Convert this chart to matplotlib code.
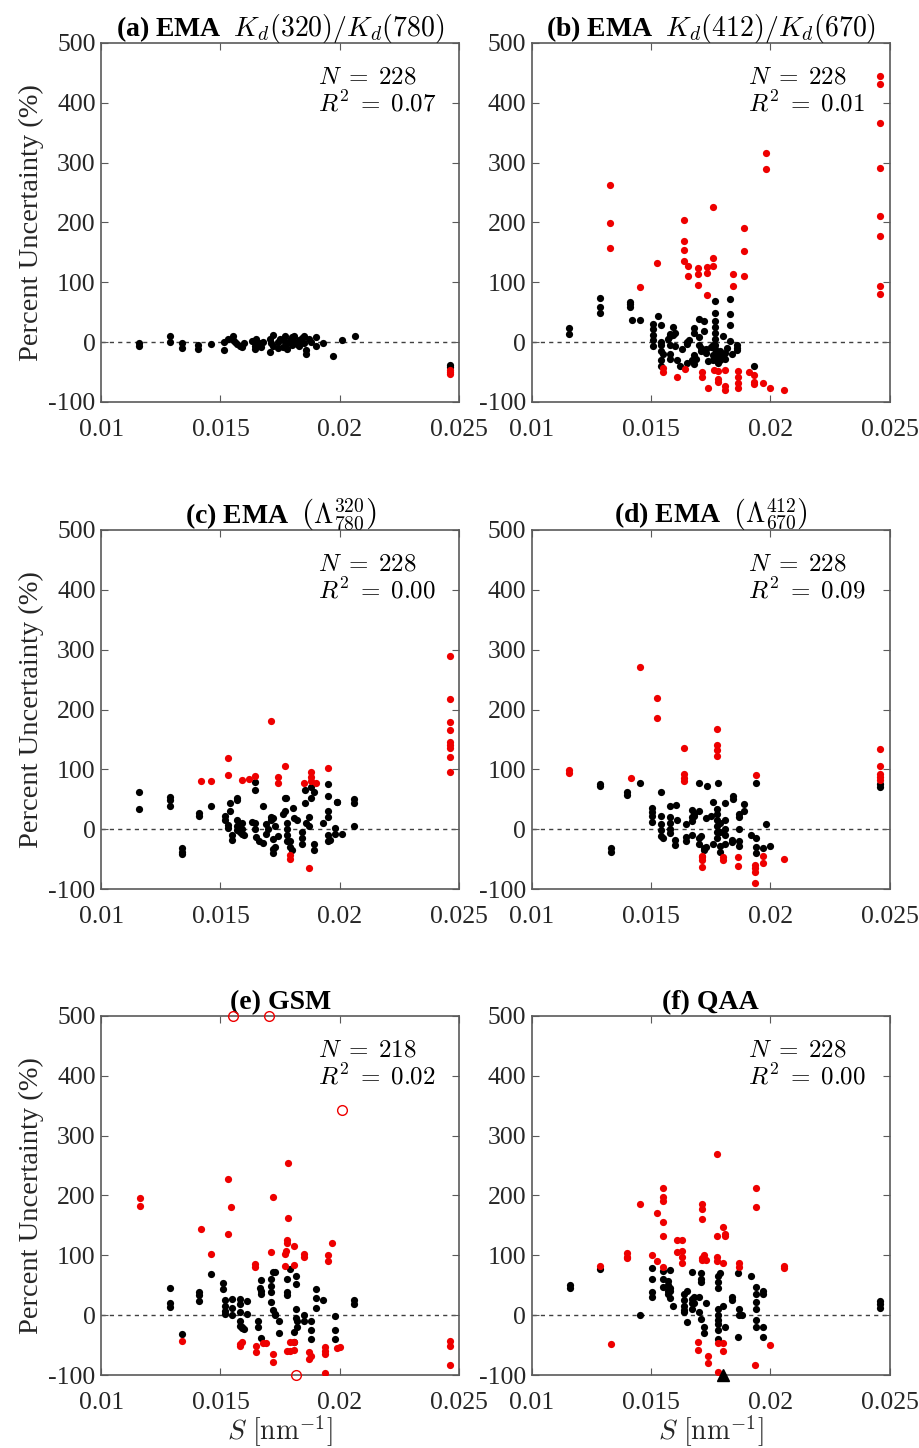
import numpy as np
import matplotlib.pyplot as plt

plt.rcParams['font.family'] = 'Liberation Serif'
plt.rcParams['mathtext.fontset'] = 'cm'

# ---- panel (a) EMA Kd(320)/Kd(780) ----
a_black_s = [0.01158, 0.01158, 0.01289, 0.01289, 0.01338, 0.01338, 0.01405, 0.01405, 0.0146,
             0.01515, 0.01515, 0.0153, 0.01554, 0.01554, 0.0156, 0.0157, 0.0158, 0.0159,
             0.01645, 0.01645, 0.0166, 0.0167, 0.0168, 0.01708, 0.01708, 0.0172, 0.0172,
             0.0174, 0.0174, 0.0176, 0.0176, 0.0177, 0.0178, 0.0178, 0.0180, 0.0180, 0.0181,
             0.0181, 0.0183, 0.0183, 0.0185, 0.0185, 0.0186, 0.0186, 0.0188, 0.0190, 0.0190,
             0.0193, 0.0197, 0.0201, 0.02064, 0.0163, 0.0171, 0.0175, 0.0179, 0.0182, 0.0184,
             0.0187, 0.0160, 0.0165, 0.0246, 0.0246]
a_black_y = [-1, -7, 10, 1, -1, -10, -4, -11, -3,
             0, -14, 6, 11, 4, 1, -3, -6, -8,
             -6, -12, -1, -8, 1, 6, -17, 12, -6,
             0, -10, 3, -8, 10, -1, -11, 8, -4, 11,
             0, 3, -6, 11, -1, -14, -20, 0, 8, -7,
             -1, -23, 3, 11, 2, -2, 5, 4, -3, 7,
             5, -1, 5, -38, -42]
a_red_s = [0.0246, 0.0246, 0.0246]
a_red_y = [-46, -50, -53]

# ---- panel (b) EMA Kd(412)/Kd(670) ----
b_black_s = [0.01155, 0.01155, 0.01284, 0.01284, 0.01284, 0.0141, 0.0141, 0.0141, 0.0142,
             0.01455, 0.0153, 0.0151, 0.0151, 0.0151, 0.0151, 0.0151, 0.0154, 0.0154, 0.0154,
             0.0154, 0.0154, 0.0154, 0.0158, 0.0158, 0.0158, 0.0158, 0.0158, 0.0159, 0.0159,
             0.0160, 0.0160, 0.0161, 0.0162, 0.0165, 0.0165, 0.0165, 0.0166, 0.0168, 0.0168,
             0.0168, 0.0168, 0.0169, 0.0170, 0.0170, 0.0170, 0.0171, 0.0171, 0.0172, 0.0172,
             0.0173, 0.0173, 0.0174, 0.0176, 0.0176, 0.0176, 0.0177, 0.0177, 0.0177, 0.0177,
             0.0177, 0.0177, 0.0177, 0.0177, 0.0178, 0.0178, 0.0178, 0.0179, 0.0180, 0.0180,
             0.0181, 0.0182, 0.0183, 0.0183, 0.0183, 0.0183, 0.0186, 0.0186, 0.0186, 0.0193,
             0.0155, 0.0157, 0.0163, 0.0167, 0.0175, 0.0179, 0.0181, 0.0184]
b_black_y = [24, 14, 74, 59, 49, 67, 63, 59, 37,
             37, 44, 31, 22, 12, 4, -6, 28, 0, -4,
             -15, -30, -40, 10, 14, -5, -20, -28, 25, 12,
             -7, 15, -30, -40, 0, -3, -35, 3, 24, 15,
             -22, -37, -28, 38, 8, -5, -10, -15, 35, 18,
             -12, -18, -32, -22, -30, -5, 69, 49, 35, 25,
             15, 5, -5, -12, -20, -26, -35, -15, -25, 10,
             -18, -10, 72, 47, 28, 2, -5, -10, -13, -40,
             -20, 5, -12, -30, -8, -30, -28, -20]
b_red_s = [0.0133, 0.0133, 0.0133, 0.01455, 0.01527, 0.0164, 0.0164, 0.0164, 0.0164,
           0.01656, 0.01656, 0.01698, 0.01698, 0.01698, 0.01735, 0.01735, 0.01735,
           0.01761, 0.01761, 0.01761, 0.01845, 0.01845, 0.0189, 0.0189, 0.0189,
           0.01983, 0.01983, 0.02458, 0.02458, 0.02458, 0.02458, 0.02458, 0.02458,
           0.02458, 0.02458, 0.01548, 0.01548, 0.0161, 0.01644, 0.01714, 0.01714, 0.0174,
           0.01765, 0.0178, 0.0178, 0.0178, 0.0181, 0.0181, 0.0181, 0.01865, 0.01865,
           0.01865, 0.01865, 0.0191, 0.0193, 0.0193, 0.0193, 0.0197, 0.0200, 0.02057]
b_red_y = [263, 199, 157, 92, 132, 204, 169, 154, 136,
           127, 110, 123, 113, 96, 126, 115, 79,
           226, 140, 127, 113, 94, 190, 152, 111,
           316, 290, 444, 432, 366, 291, 211, 177,
           93, 80, -43, -50, -58, -45, -50, -58, -77,
           -46, -48, -62, -67, -73, -80, -47, -48, -58,
           -68, -76, -50, -55, -66, -70, -68, -76, -80]

# ---- panel (c) EMA (Lambda 320/780) ----
c_black_s = [0.0116, 0.0116, 0.0129, 0.0129, 0.0129, 0.0134, 0.0134, 0.0134, 0.0141, 0.0141,
             0.0146, 0.0152, 0.0152, 0.0153, 0.0153, 0.0155, 0.0155, 0.0154, 0.0154, 0.0157,
             0.0157, 0.0157, 0.0157, 0.0157, 0.0159, 0.0159, 0.0159, 0.0160, 0.01645, 0.01645,
             0.01645, 0.01645, 0.0165, 0.0168, 0.0168, 0.0169, 0.0169, 0.0172, 0.0172, 0.0172,
             0.0171, 0.0171, 0.0172, 0.0173, 0.0173, 0.0177, 0.01775, 0.0177, 0.0178, 0.0178,
             0.0178, 0.0178, 0.0179, 0.0179, 0.01805, 0.0181, 0.0180, 0.0184, 0.0184, 0.0184,
             0.01855, 0.01855, 0.0187, 0.0187, 0.0188, 0.0188, 0.0189, 0.0189, 0.0189, 0.0193,
             0.0195, 0.0195, 0.0195, 0.0195, 0.0195, 0.0195, 0.0196, 0.0198, 0.0198, 0.0199,
             0.0199, 0.0201, 0.0206, 0.0206, 0.0206,
             0.0158, 0.0163, 0.0166, 0.0170, 0.0174, 0.0176, 0.0182, 0.0186]
c_black_y = [62, 33, 54, 49, 39, -31, -38, -42, 27, 22,
             39, 22, 15, 7, 2, -10, -18, 30, 44, 53,
             48, 15, 5, -2, 10, 0, -8, -10, 79, 65,
             10, 0, -13, 39, -23, 8, -8, 18, -33, -40,
             20, 15, -17, 6, -30, 52, 52, 30, 10, 0,
             -10, -20, -20, -30, 35, 18, -35, -5, -15, -25,
             65, 43, 20, 5, 70, 53, -25, -35, 62, 10,
             75, 55, 30, 20, -10, -20, -18, 2, -8, 45,
             45, -8, 50, 44, 5,
             -5, 12, -20, 0, -12, 25, 15, 10]
c_red_s = [0.0142, 0.0146, 0.0153, 0.0153, 0.0159, 0.0162, 0.01645, 0.0171, 0.0174, 0.0174,
           0.0177, 0.0179, 0.0179, 0.0185, 0.0188, 0.0188, 0.0188, 0.0190, 0.0187, 0.0195,
           0.0246, 0.0246, 0.0246, 0.0246, 0.0246, 0.0246, 0.0246, 0.0246, 0.0246]
c_red_y = [81, 81, 119, 90, 82, 84, 89, 180, 78, 88,
           106, -43, -50, 78, 96, 88, 80, 78, -65, 102,
           289, 218, 179, 166, 146, 141, 136, 120, 95]

# ---- panel (d) EMA (Lambda 412/670) ----
d_black_s = [0.01284, 0.01284, 0.0140, 0.0140, 0.01334, 0.01334, 0.01455, 0.0154, 0.01702,
             0.01735, 0.0178, 0.0194, 0.0246, 0.0246,
             0.01506, 0.01506, 0.01506, 0.01506, 0.0154, 0.0154, 0.0154, 0.0154, 0.0155,
             0.01578, 0.01578, 0.01578, 0.01578, 0.0158, 0.01606, 0.0161, 0.0160, 0.0160,
             0.01647, 0.01647, 0.01647, 0.0167, 0.0167, 0.0167, 0.0167, 0.0168, 0.0168,
             0.0170, 0.0170, 0.0170, 0.0171, 0.01723, 0.01723, 0.0173, 0.0173, 0.0175,
             0.0176, 0.0176, 0.01777, 0.01777, 0.01777, 0.01777, 0.01777, 0.01777, 0.0179,
             0.0179, 0.0179, 0.0179, 0.0181, 0.0181, 0.0181, 0.0181, 0.0181, 0.0184, 0.0184,
             0.01845, 0.01845, 0.0187, 0.0187, 0.0187, 0.0187, 0.0187, 0.0189, 0.0189,
             0.0192, 0.0194, 0.0194, 0.0194, 0.0197, 0.0198, 0.0200]
d_black_y = [75, 72, 62, 57, -32, -38, 78, 62, 78,
             72, 77, 77, 76, 70,
             36, 28, 22, 12, 22, 8, -2, -12, -15,
             20, 10, 0, -7, 38, 40, 16, -18, -26,
             -13, -20, 8, 32, 20, 14, -10, 26, 22,
             -15, -25, 30, -12, -32, -35, 18, -30, 22,
             45, -25, 33, 26, 15, 5, -5, -15, -28,
             -38, 10, -5, 44, 15, 0, -10, -25, -18, -22,
             55, 50, 25, 20, 0, -20, -28, 42, 30,
             -10, -15, -30, -40, -32, 8, -28]
d_red_s = [0.01155, 0.01155, 0.01414, 0.01455, 0.01527, 0.01527, 0.0164, 0.0164, 0.0164,
           0.0164, 0.01777, 0.01777, 0.01777, 0.01777, 0.0194, 0.01715, 0.01715, 0.01715,
           0.01715, 0.0180, 0.0180, 0.01866, 0.01866, 0.01936, 0.01936, 0.01936, 0.01936,
           0.0197, 0.0197, 0.02057, 0.0246, 0.0246, 0.0246, 0.0246, 0.0246]
d_red_y = [99, 94, 85, 271, 219, 185, 136, 93, 85,
           80, 168, 140, 132, 122, 90, -46, -52, -63,
           -44, -47, -52, -47, -62, -60, -65, -72, -90,
           -45, -57, -50, 134, 106, 93, 87, 82]

# ---- panel (e) GSM ----
e_black_s = [0.0129, 0.0129, 0.0129, 0.0134, 0.0141, 0.0141, 0.0141, 0.0146, 0.0151, 0.0151,
             0.0152, 0.0152, 0.0152, 0.0152, 0.0155, 0.0155, 0.0155, 0.0158, 0.0158, 0.0158,
             0.0158, 0.0158, 0.0159, 0.0159, 0.0160, 0.0161, 0.0161, 0.01658, 0.01658, 0.01665,
             0.0167, 0.0167, 0.0167, 0.0167, 0.0171, 0.0171, 0.0171, 0.0171, 0.0172, 0.0172,
             0.0173, 0.0173, 0.0173, 0.01746, 0.01746, 0.0178, 0.0178, 0.0178, 0.0179, 0.01817,
             0.01817, 0.01817, 0.01817, 0.0181, 0.0181, 0.0182, 0.0182, 0.0185, 0.0185, 0.0188,
             0.0188, 0.0188, 0.0190, 0.0190, 0.0190, 0.0193, 0.0198, 0.0198, 0.0198, 0.0206,
             0.0206]
e_black_y = [45, 20, 14, -32, 38, 33, 24, 68, 54, 43,
             25, 15, 7, 2, 27, 12, 0, 27, 18, 5,
             -10, -18, -20, -22, -23, 23, 2, -10, -20, 45,
             58, 40, 35, -38, 60, 48, 38, 22, 72, 8,
             72, 0, 2, -10, -30, 60, 38, 33, 77, 65,
             52, 10, -5, -28, -45, -10, -20, 0, -10, -10,
             -25, -40, 44, 28, 12, 25, -2, -25, -40, 25,
             18]
e_red_s = [0.01163, 0.01163, 0.01418, 0.0146, 0.01533, 0.01533, 0.01545, 0.0134, 0.01645,
           0.01645, 0.0171, 0.0172, 0.01782, 0.01782, 0.0178, 0.0178, 0.0177, 0.0177,
           0.01775, 0.0181, 0.0181, 0.0185, 0.0185, 0.0195, 0.0195, 0.01968, 0.0158,
           0.0158, 0.0159, 0.0165, 0.0165, 0.0168, 0.0169, 0.0172, 0.0172, 0.0178, 0.0179,
           0.0179, 0.0181, 0.0181, 0.0187, 0.0187, 0.0188, 0.0194, 0.0194, 0.0194, 0.0194,
           0.0199, 0.0200, 0.0246, 0.0246, 0.0246]
e_red_y = [196, 183, 144, 103, 227, 136, 181, -43, 86,
           80, 105, 197, 255, 163, 125, 120, 103, 82,
           108, 115, 83, 102, 97, 100, 91, 121, -48,
           -52, -45, -52, -62, -47, -47, -65, -78, -60, -45,
           -60, -45, -58, -62, -73, -68, -53, -60, -65, -96,
           -55, -54, -43, -51, -83]
# values beyond the axis range, drawn as open circles on the frame
e_out_s = [0.01552, 0.01704, 0.02011, 0.01817]
e_out_y = [500, 500, 342, -100]

# ---- panel (f) QAA ----
f_black_s = [0.01159, 0.01159, 0.01284, 0.01455, 0.0246, 0.0246, 0.0246,
             0.01506, 0.01506, 0.01506, 0.01506, 0.0155, 0.0155, 0.0155, 0.0157, 0.0157,
             0.0157, 0.0157, 0.0158, 0.0158, 0.0158, 0.0158, 0.0159, 0.0164, 0.0164, 0.0164,
             0.0164, 0.0164, 0.0165, 0.0165, 0.0167, 0.0167, 0.0167, 0.0167, 0.0168, 0.0168,
             0.0170, 0.0170, 0.0171, 0.0171, 0.0171, 0.0171, 0.0172, 0.0172, 0.0173, 0.0178,
             0.0178, 0.0178, 0.0178, 0.0178, 0.0178, 0.0178, 0.0178, 0.0178, 0.0179, 0.0180,
             0.0181, 0.0184, 0.0184, 0.01866, 0.01866, 0.0187, 0.0187, 0.0188, 0.0192, 0.0194,
             0.0194, 0.0194, 0.0194, 0.0194, 0.0194, 0.0197, 0.0197, 0.0197, 0.0197]
f_black_y = [50, 45, 77, 0, 24, 18, 12,
             78, 60, 38, 30, 73, 60, 47, 57, 50,
             40, 35, 75, 45, 40, 28, 15, 35, 25, 15,
             5, 8, 40, -12, 72, 27, 20, 10, 30, 20,
             30, 5, 70, 60, 55, -7, -20, -30, 20, 65,
             55, 45, 10, 0, -8, -15, -25, -40, 70, 15,
             -20, 30, 25, 70, -37, 10, 0, 0, 65, 47,
             35, 22, 10, -20, -8, 40, 35, -20, -37]
f_red_s = [0.01284, 0.01334, 0.0140, 0.0140, 0.0140, 0.01455, 0.01506, 0.01527, 0.01527,
           0.01548, 0.01548, 0.01548, 0.01548, 0.01548, 0.01548, 0.0163, 0.0163, 0.0163,
           0.0163, 0.0161, 0.0161, 0.01715, 0.01715, 0.01715, 0.01715, 0.01715, 0.0172,
           0.0173, 0.01777, 0.01777, 0.01777, 0.01777, 0.0180, 0.0181, 0.0181, 0.0180,
           0.0187, 0.0187, 0.0194, 0.0194, 0.02057, 0.02057, 0.01698, 0.01698, 0.0174,
           0.0174, 0.0178, 0.0178, 0.0180, 0.0180, 0.01936, 0.0200]
f_red_y = [82, -48, 104, 98, 95, 185, 100, 170, 90,
           213, 198, 190, 155, 133, 80, 125, 108, 98,
           88, 125, 105, 185, 177, 160, 95, 92, 100,
           92, 270, 133, 97, 90, 148, 136, 133, 88,
           88, 80, 213, 180, 82, 78, -45, -58, -68,
           -80, -47, -95, -47, -60, -83, -50]
# value below the axis range, drawn as a triangle on the frame
f_out_s = [0.0180]
f_out_y = [-100]

titles = [r'(a) EMA  $K_d(320)/K_d(780)$',
          r'(b) EMA  $K_d(412)/K_d(670)$',
          r'(c) EMA  $\left(\Lambda_{780}^{320}\right)$',
          r'(d) EMA  $\left(\Lambda_{670}^{412}\right)$',
          '(e) GSM',
          '(f) QAA']
n_vals = [228, 228, 228, 228, 218, 228]
r2_vals = ['0.07', '0.01', '0.00', '0.09', '0.02', '0.00']

black = [(a_black_s, a_black_y), (b_black_s, b_black_y), (c_black_s, c_black_y),
         (d_black_s, d_black_y), (e_black_s, e_black_y), (f_black_s, f_black_y)]
red = [(a_red_s, a_red_y), (b_red_s, b_red_y), (c_red_s, c_red_y),
       (d_red_s, d_red_y), (e_red_s, e_red_y), (f_red_s, f_red_y)]

fig = plt.figure(figsize=(9.2, 14.48), dpi=100)

lefts = [0.110, 0.578]
bottoms = [0.7224, 0.386, 0.0504]
w, h = 0.389, 0.248
frame = '#5a5a5a'
txt = '#262626'

for i in range(6):
    row, col = divmod(i, 2)
    ax = fig.add_axes([lefts[col], bottoms[row], w, h])
    ax.axhline(0, color='#404040', lw=1.0, ls=(0, (3, 3)), zorder=1)
    ax.plot(black[i][0], black[i][1], 'o', color='black', ms=5.2, mew=0, zorder=3)
    ax.plot(red[i][0], red[i][1], 'o', color='#ee0000', ms=5.2, mew=0, zorder=3)
    if i == 4:
        ax.plot(e_out_s, e_out_y, 'o', mfc='none', mec='#ee0000', ms=7, mew=1.0,
                clip_on=False, zorder=4)
    if i == 5:
        ax.plot(f_out_s, f_out_y, '^', color='black', ms=9, clip_on=False, zorder=4)

    ax.set_xlim(0.01, 0.025)
    ax.set_ylim(-100, 500)
    ax.set_xticks([0.01, 0.015, 0.02, 0.025])
    ax.set_xticklabels(['0.01', '0.015', '0.02', '0.025'])
    ax.set_yticks(np.arange(-100, 501, 100))
    ax.set_yticklabels([str(v) for v in range(-100, 501, 100)])
    ax.tick_params(direction='in', top=True, right=True, length=5, width=0.8,
                   colors=frame, labelcolor=txt, labelsize=18.5, pad=4)
    ax.tick_params(axis='x', pad=12)
    for sp in ax.spines.values():
        sp.set_color(frame)
        sp.set_linewidth(1.2)

    ax.set_title(titles[i], fontsize=20, fontweight='bold', pad=5)
    ax.text(0.605, 0.935, '$N\\;=\\;%d$\n$R^2\\;=\\;%s$' % (n_vals[i], r2_vals[i]),
            transform=ax.transAxes, ha='left', va='top', fontsize=18,
            linespacing=1.1, color='black')
    if col == 0:
        ax.set_ylabel('Percent Uncertainty (%)', fontsize=20.5, color=txt, labelpad=3)
    if row == 2:
        ax.set_xlabel(r'$S\ [\mathrm{nm}^{-1}]$', fontsize=20, color=txt, labelpad=0)

fig.savefig('out.png', dpi=100)
